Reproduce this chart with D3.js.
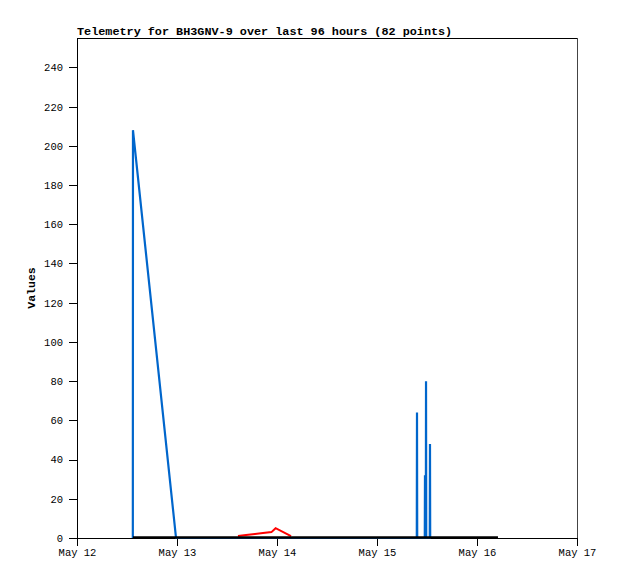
<!DOCTYPE html>
<html>
<head>
<meta charset="utf-8">
<script src="https://cdn.jsdelivr.net/npm/d3@7"></script>
<style>
  body { margin: 0; background: #fff; }
  svg { display: block; }
  .axis text { font-family: "Liberation Mono", "DejaVu Sans Mono", monospace; font-size: 10.5px; fill: #000; }
  .axis path, .axis line { stroke: #000; shape-rendering: crispEdges; }
</style>
</head>
<body>
<svg id="chart" width="618" height="579"></svg>
<script>
const title = "Telemetry for BH3GNV-9 over last 96 hours (82 points)";
const yLabel = "Values";

const xTickLabels = ["May 12", "May 13", "May 14", "May 15", "May 16", "May 17"];
const xTickTimes = ["2024-05-12T00:00", "2024-05-13T00:00", "2024-05-14T00:00", "2024-05-15T00:00", "2024-05-16T00:00", "2024-05-17T00:00"];
const yTicks = [0, 20, 40, 60, 80, 100, 120, 140, 160, 180, 200, 220, 240];

// Blue series
const blueTimes = ["2024-05-12T13:24", "2024-05-12T13:26", "2024-05-12T23:46",
  "2024-05-15T09:33", "2024-05-15T09:36", "2024-05-15T09:39",
  "2024-05-15T11:28", "2024-05-15T11:31", "2024-05-15T11:34",
  "2024-05-15T11:43", "2024-05-15T11:46", "2024-05-15T11:49",
  "2024-05-15T12:40", "2024-05-15T12:43", "2024-05-15T12:46"];
const blueValues = [0, 208, 0,
  0, 64, 0,
  0, 32, 0,
  0, 80, 0,
  0, 48, 0];

// Red series
const redTimes = ["2024-05-13T14:38", "2024-05-13T16:34", "2024-05-13T18:43", "2024-05-13T20:38", "2024-05-13T22:40", "2024-05-13T23:40", "2024-05-14T03:22"];
const redValues = [1, 1.5, 2, 2.5, 3, 5, 1];

// Black series (zero)
const blackTimes = ["2024-05-12T13:26", "2024-05-16T05:02"];
const blackValues = [0, 0];

const parse = d3.utcParse("%Y-%m-%dT%H:%M");
const svg = d3.select("#chart");
const margin = { left: 77, top: 38, right: 41, bottom: 41 };
const W = 618, H = 579;

const x = d3.scaleUtc()
  .domain([parse(xTickTimes[0]), parse(xTickTimes[xTickTimes.length - 1])])
  .range([margin.left, W - margin.right]);
const y = d3.scaleLinear().domain([0, 255]).range([H - margin.bottom, margin.top]);

// frame top & right
svg.append("line").attr("x1", margin.left).attr("x2", W - margin.right)
  .attr("y1", margin.top + 0.5).attr("y2", margin.top + 0.5)
  .attr("stroke", "#000").attr("shape-rendering", "crispEdges");
svg.append("line").attr("x1", W - margin.right + 0.5).attr("x2", W - margin.right + 0.5)
  .attr("y1", margin.top).attr("y2", H - margin.bottom)
  .attr("stroke", "#444").attr("shape-rendering", "crispEdges");

// axes
const xAxis = d3.axisBottom(x)
  .tickValues(xTickTimes.map(parse))
  .tickFormat((d, i) => xTickLabels[i])
  .tickSize(8).tickSizeOuter(0).tickPadding(3);
svg.append("g").attr("class", "axis")
  .attr("transform", `translate(0,${H - margin.bottom})`)
  .call(xAxis);

const yAxis = d3.axisLeft(y).tickValues(yTicks).tickSize(8).tickSizeOuter(0).tickPadding(6);
const gy = svg.append("g").attr("class", "axis")
  .attr("transform", `translate(${margin.left},0)`)
  .call(yAxis);
gy.select(".domain").attr("d", `M0.5,${margin.top}V${H - margin.bottom}`);

function series(times, values) {
  return times.map((t, i) => ({ t: parse(t), v: values[i] }));
}
const line = d3.line().x(d => x(d.t)).y(d => y(d.v));

svg.append("path").datum(series(blueTimes, blueValues))
  .attr("d", line).attr("fill", "none").attr("stroke", "#0066cc").attr("stroke-width", 2.2);
svg.append("path").datum(series(redTimes, redValues))
  .attr("d", line).attr("fill", "none").attr("stroke", "#ff0000").attr("stroke-width", 2);
svg.append("path").datum(series(blackTimes, blackValues))
  .attr("d", line).attr("fill", "none").attr("stroke", "#000").attr("stroke-width", 2.5)
  .attr("transform", "translate(0,-0.5)");

// title
svg.append("text").attr("x", margin.left).attr("y", 35)
  .attr("font-family", "'Liberation Mono', 'DejaVu Sans Mono', monospace")
  .attr("font-size", "11.8px").attr("font-weight", "bold")
  .text(title);

// y label
svg.append("text")
  .attr("transform", `translate(35,${(margin.top + H - margin.bottom) / 2}) rotate(-90)`)
  .attr("text-anchor", "middle")
  .attr("font-family", "'Liberation Mono', 'DejaVu Sans Mono', monospace")
  .attr("font-size", "11.5px").attr("font-weight", "bold")
  .text(yLabel);
</script>
</body>
</html>
